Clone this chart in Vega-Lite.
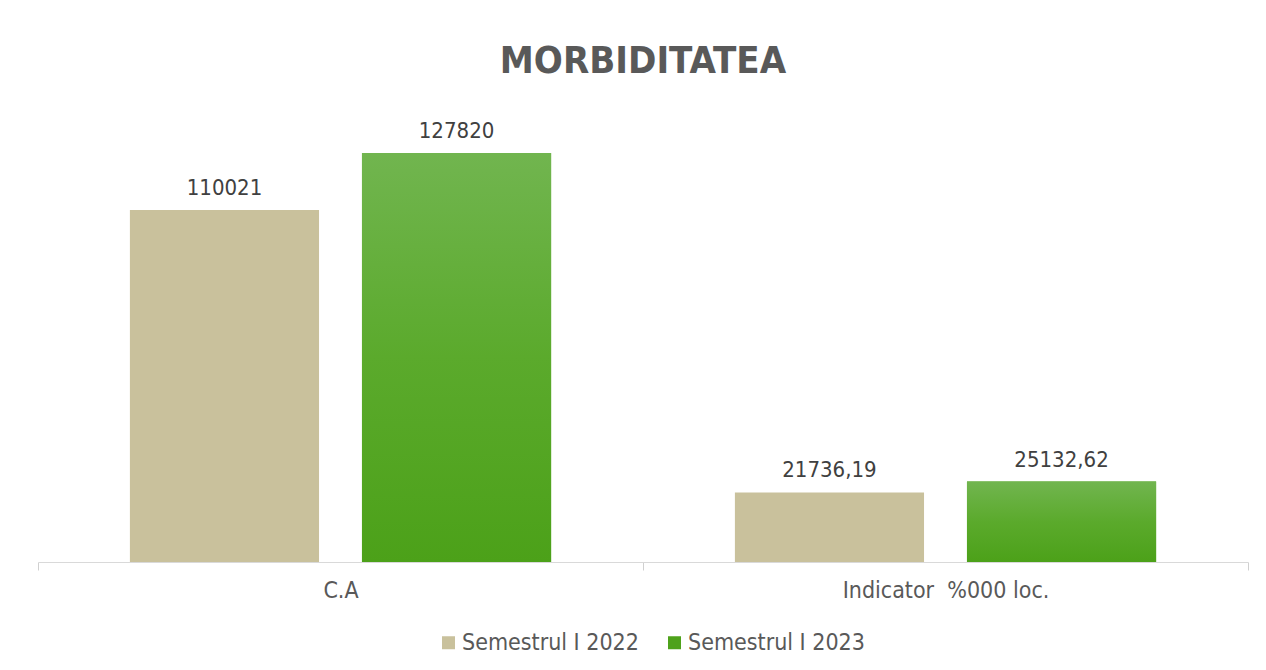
{
  "$schema": "https://vega.github.io/schema/vega-lite/v6.json",
  "width": 1210,
  "height": 448,
  "autosize": "none",
  "padding": {"left": 38, "top": 114, "right": 18, "bottom": 108},
  "background": "white",
  "title": {
    "text": "MORBIDITATEA",
    "fontSize": 38,
    "fontWeight": "bold",
    "color": "#595959",
    "font": "DejaVu Sans Condensed, Liberation Sans Narrow, DejaVu Sans",
    "anchor": "middle",
    "offset": 33
  },
  "data": {
    "values": [
      {"categorie": "C.A", "serie": "Semestrul I 2022", "valoare": 110021, "eticheta": "110021"},
      {"categorie": "C.A", "serie": "Semestrul I 2023", "valoare": 127820, "eticheta": "127820"},
      {"categorie": "Indicator \u00a0%000 loc.", "serie": "Semestrul I 2022", "valoare": 21736.19, "eticheta": "21736,19"},
      {"categorie": "Indicator \u00a0%000 loc.", "serie": "Semestrul I 2023", "valoare": 25132.62, "eticheta": "25132,62"}
    ]
  },
  "encoding": {
    "x": {
      "field": "categorie",
      "type": "nominal",
      "sort": null,
      "scale": {"paddingInner": 0, "paddingOuter": 0},
      "axis": {
        "title": null,
        "labelAngle": 0,
        "labelFontSize": 23,
        "labelLimit": 0,
        "labelColor": "#595959",
        "labelFont": "DejaVu Sans Condensed, Liberation Sans Narrow, DejaVu Sans",
        "labelPadding": 9,
        "domainColor": "#D9D9D9",
        "tickColor": "#D0D0D0",
        "tickSize": 8,
        "tickBand": "extent",
        "grid": false
      }
    },
    "xOffset": {
      "field": "serie",
      "type": "nominal",
      "sort": null,
      "scale": {"paddingInner": 0.185, "paddingOuter": 0.396}
    },
    "y": {
      "field": "valoare",
      "type": "quantitative",
      "scale": {"domain": [0, 140000], "nice": false},
      "axis": null
    }
  },
  "layer": [
    {
      "mark": {"type": "bar"},
      "encoding": {
        "color": {
          "field": "serie",
          "type": "nominal",
          "sort": null,
          "scale": {"domain": ["Semestrul I 2022", "Semestrul I 2023"], "range": ["#C9C19C", "#4EA21B"]},
          "legend": {
            "title": null,
            "orient": "none",
            "legendX": 399,
            "legendY": 517,
            "direction": "horizontal",
            "symbolType": "square",
            "symbolSize": 169,
            "symbolStrokeWidth": 0,
            "symbolOpacity": 1,
            "labelFontSize": 23,
            "labelLimit": 0,
            "labelColor": "#595959",
            "labelFont": "DejaVu Sans Condensed, Liberation Sans Narrow, DejaVu Sans",
            "labelOffset": 2,
            "columnPadding": 24
          }
        }
      }
    },
    {
      "transform": [{"filter": "datum.serie === 'Semestrul I 2023'"}],
      "mark": {
        "type": "bar",
        "color": {
          "gradient": "linear",
          "x1": 0, "y1": 0, "x2": 0, "y2": 1,
          "stops": [
            {"offset": 0, "color": "#71B54F"},
            {"offset": 0.5, "color": "#5BAA2C"},
            {"offset": 1, "color": "#4CA119"}
          ]
        }
      }
    },
    {
      "mark": {
        "type": "text",
        "baseline": "alphabetic",
        "dy": -15,
        "fontSize": 22,
        "color": "#404040",
        "font": "DejaVu Sans Condensed, Liberation Sans Narrow, DejaVu Sans"
      },
      "encoding": {
        "text": {"field": "eticheta", "type": "nominal"}
      }
    }
  ],
  "config": {
    "view": {"stroke": null}
  }
}
